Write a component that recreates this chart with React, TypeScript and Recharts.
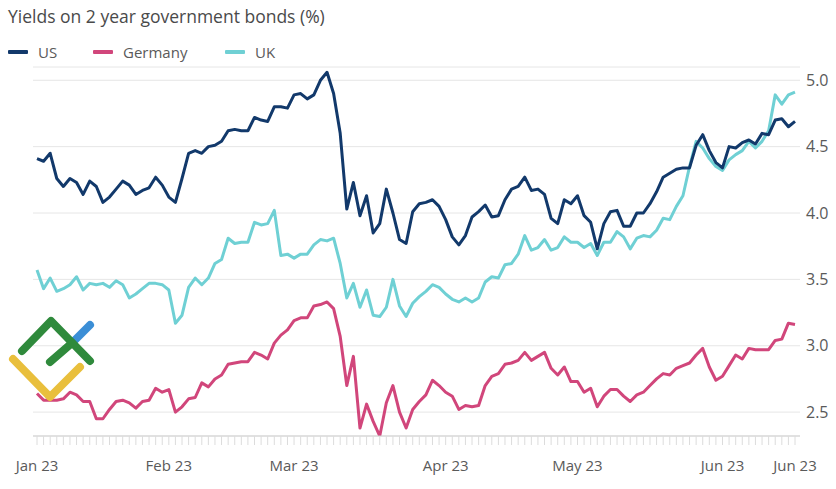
import React from 'react';
import { LineChart, Line, XAxis, YAxis, CartesianGrid } from 'recharts';

// 2-year government bond yields, one value per trading day
const us = [
  4.41, 4.39, 4.45, 4.26, 4.2, 4.26, 4.23, 4.14, 4.24, 4.2,
  4.08, 4.12, 4.18, 4.24, 4.21, 4.14, 4.17, 4.19, 4.27, 4.21,
  4.12, 4.08, 4.26, 4.45, 4.47, 4.45, 4.5, 4.51, 4.54, 4.62,
  4.63, 4.62, 4.62, 4.72, 4.7, 4.69, 4.8, 4.8, 4.79, 4.89,
  4.9, 4.86, 4.89, 5.0, 5.06, 4.9, 4.6, 4.03, 4.23, 3.98,
  4.13, 3.85, 3.92, 4.18, 4.0, 3.8, 3.77, 4.01, 4.07, 4.08,
  4.1, 4.05, 3.95, 3.82, 3.76, 3.83, 3.97, 4.01, 4.06, 3.97,
  3.98, 4.1, 4.18, 4.2, 4.27, 4.17, 4.18, 4.14, 3.96, 3.92,
  4.1, 4.07, 4.13, 3.98, 3.93, 3.73, 3.92, 4.01, 4.02, 3.9,
  3.9, 4.0, 4.0, 4.07, 4.16, 4.27, 4.3, 4.33, 4.34, 4.34,
  4.51, 4.59, 4.47, 4.38, 4.34, 4.5, 4.49, 4.53, 4.55, 4.52,
  4.6, 4.59, 4.7, 4.71, 4.65, 4.69,
];

const germany = [
  2.64, 2.59, 2.59, 2.59, 2.6, 2.65, 2.63, 2.58, 2.58, 2.45,
  2.45, 2.52, 2.58, 2.59, 2.57, 2.53, 2.58, 2.59, 2.68, 2.65,
  2.67, 2.5, 2.54, 2.6, 2.61, 2.72, 2.69, 2.75, 2.78, 2.86,
  2.87, 2.88, 2.88, 2.95, 2.93, 2.9, 3.02, 3.08, 3.12, 3.19,
  3.21, 3.21, 3.3, 3.31, 3.33, 3.28, 3.07, 2.7, 2.92, 2.38,
  2.56, 2.43, 2.32, 2.57, 2.7, 2.5, 2.38, 2.52, 2.58, 2.63,
  2.74, 2.7, 2.65, 2.62, 2.52, 2.55, 2.54, 2.55, 2.7, 2.77,
  2.79, 2.86, 2.87, 2.89, 2.95, 2.89, 2.92, 2.95, 2.83, 2.78,
  2.84, 2.73, 2.73, 2.65, 2.68, 2.54, 2.62, 2.67, 2.67, 2.62,
  2.58, 2.63, 2.65, 2.7, 2.75, 2.79, 2.78, 2.83, 2.85, 2.87,
  2.93, 2.98, 2.84, 2.74, 2.77, 2.85, 2.93, 2.9, 2.98, 2.97,
  2.97, 2.97, 3.04, 3.05, 3.17, 3.16,
];

const uk = [
  3.57, 3.43, 3.51, 3.41, 3.43, 3.46, 3.52, 3.42, 3.47, 3.46,
  3.47, 3.44, 3.49, 3.46, 3.36, 3.39, 3.43, 3.47, 3.47, 3.46,
  3.42, 3.17, 3.23, 3.44, 3.51, 3.46, 3.51, 3.62, 3.65, 3.81,
  3.77, 3.78, 3.78, 3.93, 3.91, 3.92, 4.02, 3.68, 3.69, 3.66,
  3.69, 3.69, 3.76, 3.8, 3.79, 3.81, 3.62, 3.36, 3.47, 3.29,
  3.42, 3.23, 3.22, 3.29, 3.5, 3.3, 3.22, 3.32, 3.37, 3.41,
  3.46, 3.44, 3.39, 3.35, 3.33, 3.36, 3.33, 3.36, 3.48, 3.52,
  3.51, 3.61, 3.62, 3.69, 3.83, 3.72, 3.74, 3.8, 3.72, 3.74,
  3.82, 3.78, 3.78, 3.74, 3.77, 3.68, 3.78, 3.78, 3.86, 3.82,
  3.73, 3.81, 3.83, 3.82, 3.87, 3.96, 3.95, 4.05, 4.13, 4.35,
  4.54, 4.49, 4.41, 4.35, 4.32, 4.4, 4.44, 4.47, 4.54, 4.49,
  4.54, 4.62, 4.89, 4.82, 4.89, 4.91,
];

// which trading day each month label sits under
const labelIndex = [0, 20, 39, 62, 82, 104, 115];
const tickLabels = ['Jan 23', 'Feb 23', 'Mar 23', 'Apr 23', 'May 23', 'Jun 23', 'Jun 23'];
const yTicks = [2.5, 3, 3.5, 4, 4.5, 5];

const data = us.map((v, i) => ({ i, us: v, germany: germany[i], uk: uk[i] }));
const dayTicks = data.map((d) => d.i);

const FONT = '"Open Sans", sans-serif';
const TEXT = '#5a5a5a';

const DateTick = (props: any) => {
  const { x, y, payload } = props;
  const k = labelIndex.indexOf(payload.value);
  return (
    <g>
      <line x1={x} x2={x} y1={y} y2={y + 9} stroke="#dcdcdc" strokeWidth={1} />
      {k >= 0 && (
        <text x={x} y={y + 35} textAnchor="middle" fill={TEXT} fontSize={15} fontFamily={FONT}>
          {tickLabels[k]}
        </text>
      )}
    </g>
  );
};

const legend = [
  { name: 'US', color: '#12396b', left: 8 },
  { name: 'Germany', color: '#d1467b', left: 93 },
  { name: 'UK', color: '#6fd0d4', left: 225 },
];

export default function App() {
  return (
    <div style={{ position: 'absolute', left: 0, top: 0, width: 836, height: 489, background: '#fff', fontFamily: FONT }}>
      <div style={{ position: 'absolute', left: 8, top: 4, fontSize: 17.5, color: '#4a4a4a', lineHeight: '24px' }}>
        Yields on 2 year government bonds (%)
      </div>
      {legend.map((l) => (
        <div key={l.name} style={{ position: 'absolute', left: l.left, top: 41, height: 22, display: 'flex', alignItems: 'center' }}>
          <span style={{ width: 20, height: 4, background: l.color, borderRadius: 1, display: 'inline-block' }} />
          <span style={{ marginLeft: 10, fontSize: 15, color: TEXT }}>{l.name}</span>
        </div>
      ))}
      <LineChart width={836} height={489} data={data} margin={{ top: 67, right: 0, left: 33, bottom: 13 }}>
        <CartesianGrid vertical={false} stroke="#e6e6e6" />
        <XAxis
          dataKey="i"
          type="number"
          domain={[0, 115]}
          ticks={dayTicks}
          interval={0}
          tick={<DateTick />}
          tickLine={false}
          tickSize={0}
          tickMargin={0}
          axisLine={{ stroke: '#cfcfcf' }}
          padding={{ left: 4, right: 5 }}
          height={40}
        />
        <YAxis
          orientation="right"
          domain={[2.32, 5.1]}
          ticks={yTicks}
          tickFormatter={(v: number) => v.toFixed(1)}
          axisLine={false}
          tickLine={false}
          tickSize={0}
          tickMargin={6}
          width={36}
          tick={{ fill: TEXT, fontSize: 16, fontFamily: FONT }}
          allowDataOverflow
        />
        <Line dataKey="germany" stroke="#d1467b" strokeWidth={3} dot={false} isAnimationActive={false} strokeLinejoin="round" />
        <Line dataKey="uk" stroke="#6fd0d4" strokeWidth={3} dot={false} isAnimationActive={false} strokeLinejoin="round" />
        <Line dataKey="us" stroke="#12396b" strokeWidth={3} dot={false} isAnimationActive={false} strokeLinejoin="round" />
      </LineChart>
      {/* watermark logo in the lower left */}
      <svg width={836} height={489} style={{ position: 'absolute', left: 0, top: 0, pointerEvents: 'none' }}>
        <g fill="none" strokeWidth={8} strokeLinecap="round" strokeLinejoin="round">
          <polyline points="13,359 50,397 80,367" stroke="#e9bf3c" />
          <polyline points="72,343 90,325" stroke="#3b8ed6" />
          <polyline points="22,351 51,321 90,361" stroke="#2f8a3c" />
          <polyline points="50,362 72,343" stroke="#2f8a3c" />
        </g>
      </svg>
    </div>
  );
}
